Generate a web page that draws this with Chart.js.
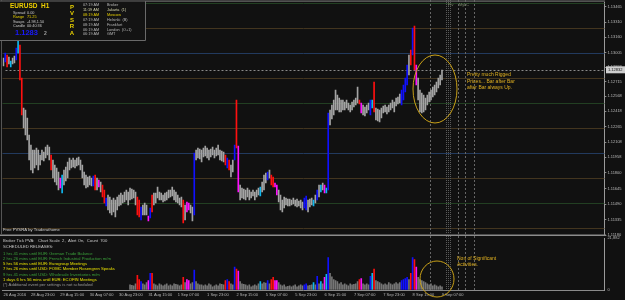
<!DOCTYPE html>
<html><head><meta charset="utf-8">
<script src="https://cdn.jsdelivr.net/npm/chart.js@4.4.0/dist/chart.umd.min.js"></script>
<style>
html,body{margin:0;padding:0;background:#111111;width:625px;height:300px;overflow:hidden}
#wrap{position:relative;width:625px;height:300px;background:#111111}
canvas{position:absolute;left:0}
#c1{top:0}
#c2{top:236px}
</style></head><body>
<div id="wrap"><canvas id="c1" width="625" height="236"></canvas><canvas id="c2" width="625" height="64"></canvas></div>
<script>
// ---------- DATA (H1 bars, 26 Aug 2016 .. 9 Sep 2016 07:00) ----------
const barHigh = [1.1295,1.1300,1.1298,1.1296,1.1292,1.1295,1.1297,1.1305,1.1313,1.1308,
1.1275,1.1245,1.1243,1.1235,1.1218,1.1208,1.1203,1.1203,1.1205,1.1203,
1.1198,1.1203,1.1201,1.1206,1.1208,1.1206,1.1198,1.1193,1.1188,1.1185,
1.1181,1.1175,1.1178,1.1183,1.1186,1.1191,1.1195,1.1193,1.1195,1.1193,
1.1195,1.1196,1.1193,1.1188,1.1181,1.1178,1.1176,1.1177,1.1175,1.1177,
1.1178,1.1175,1.1173,1.1171,1.1168,1.1163,1.1155,1.1158,1.1156,1.1153,
1.1155,1.1153,1.1156,1.1158,1.1160,1.1158,1.1161,1.1163,1.1161,1.1165,
1.1164,1.1163,1.1161,1.1156,1.1153,1.1146,1.1148,1.1150,1.1148,1.1137,
1.1145,1.1158,1.1160,1.1160,1.1166,1.1161,1.1160,1.1158,1.1160,1.1161,
1.1163,1.1163,1.1166,1.1163,1.1161,1.1158,1.1155,1.1156,1.1153,1.1148,
1.1151,1.1150,1.1148,1.1146,1.1200,1.1203,1.1205,1.1204,1.1203,1.1205,
1.1207,1.1205,1.1203,1.1204,1.1206,1.1203,1.1205,1.1208,1.1203,1.1202,
1.1201,1.1198,1.1195,1.1193,1.1188,1.1193,1.1208,1.1253,1.1207,1.1168,
1.1165,1.1164,1.1163,1.1165,1.1163,1.1161,1.1163,1.1161,1.1163,1.1165,
1.1166,1.1171,1.1178,1.1180,1.1181,1.1183,1.1178,1.1176,1.1170,1.1168,
1.1163,1.1158,1.1153,1.1156,1.1155,1.1154,1.1154,1.1153,1.1155,1.1153,
1.1154,1.1152,1.1153,1.1151,1.1155,1.1157,1.1153,1.1154,1.1155,1.1153,
1.1158,1.1163,1.1168,1.1168,1.1170,1.1168,1.1165,1.1240,1.1243,1.1248,
1.1253,1.1263,1.1258,1.1255,1.1253,1.1253,1.1251,1.1253,1.1250,1.1248,
1.1251,1.1253,1.1255,1.1266,1.1253,1.1250,1.1248,1.1246,1.1248,1.1250,
1.1253,1.1253,1.1271,1.1245,1.1244,1.1243,1.1245,1.1247,1.1248,1.1246,
1.1248,1.1250,1.1253,1.1251,1.1255,1.1256,1.1259,1.1263,1.1268,1.1275,
1.1288,1.1298,1.1303,1.1325,1.1327,1.1288,1.1275,1.1263,1.1260,1.1258,
1.1255,1.1258,1.1261,1.1263,1.1266,1.1268,1.1271,1.1275,1.1278,1.1283];
const barLow = [1.1287,1.1291,1.1286,1.1289,1.1286,1.1289,1.1290,1.1293,1.1300,1.1273,
1.1238,1.1225,1.1218,1.1213,1.1193,1.1183,1.1180,1.1185,1.1188,1.1183,
1.1188,1.1193,1.1192,1.1195,1.1198,1.1193,1.1183,1.1175,1.1171,1.1168,
1.1163,1.1165,1.1160,1.1168,1.1172,1.1175,1.1183,1.1185,1.1186,1.1185,
1.1187,1.1188,1.1183,1.1175,1.1168,1.1165,1.1166,1.1168,1.1167,1.1167,
1.1163,1.1163,1.1166,1.1161,1.1156,1.1150,1.1147,1.1143,1.1140,1.1138,
1.1141,1.1136,1.1143,1.1147,1.1148,1.1150,1.1151,1.1153,1.1148,1.1153,
1.1154,1.1155,1.1148,1.1138,1.1136,1.1133,1.1138,1.1138,1.1138,1.1132,
1.1135,1.1141,1.1148,1.1150,1.1155,1.1153,1.1153,1.1151,1.1152,1.1153,
1.1155,1.1156,1.1157,1.1153,1.1151,1.1150,1.1148,1.1146,1.1130,1.1133,
1.1141,1.1143,1.1140,1.1132,1.1138,1.1193,1.1195,1.1194,1.1191,1.1196,
1.1197,1.1195,1.1193,1.1196,1.1198,1.1195,1.1197,1.1198,1.1193,1.1192,
1.1191,1.1188,1.1185,1.1183,1.1176,1.1181,1.1193,1.1205,1.1161,1.1153,
1.1155,1.1154,1.1153,1.1156,1.1153,1.1155,1.1157,1.1153,1.1156,1.1158,
1.1157,1.1161,1.1163,1.1170,1.1173,1.1175,1.1168,1.1166,1.1166,1.1158,
1.1151,1.1143,1.1141,1.1145,1.1148,1.1147,1.1147,1.1148,1.1149,1.1147,
1.1146,1.1147,1.1145,1.1143,1.1145,1.1143,1.1141,1.1146,1.1148,1.1147,
1.1150,1.1153,1.1156,1.1161,1.1163,1.1160,1.1160,1.1163,1.1228,1.1234,
1.1238,1.1243,1.1243,1.1241,1.1241,1.1243,1.1243,1.1245,1.1243,1.1241,
1.1243,1.1246,1.1248,1.1250,1.1249,1.1240,1.1238,1.1237,1.1240,1.1243,
1.1238,1.1245,1.1241,1.1233,1.1232,1.1231,1.1235,1.1240,1.1241,1.1239,
1.1241,1.1243,1.1245,1.1241,1.1247,1.1249,1.1250,1.1248,1.1253,1.1261,
1.1268,1.1278,1.1288,1.1298,1.1283,1.1268,1.1253,1.1241,1.1240,1.1241,
1.1243,1.1248,1.1251,1.1253,1.1256,1.1258,1.1261,1.1265,1.1268,1.1273];
// PVSRA bar class per bar: g = normal, r = red, b = blue, m = magenta, c = cyan
const barKind = "gbrgcggbc" + "rrg" + "gggggggggg" + "g" +
  "gggrggggmcg" + "g" + "ggggggggggg" + "g" + "ggbrgmgrrbg" + "g" +
  "ggggggggggg" + "g" + "ggrrbgggmbr" + "g" + "ggggggggggg" + "g" +
  "gggrgmmggbgg" + "g" + "ggggggggggg" + "g" + "grbrggbrmgg" + "g" +
  "ggggggggcgg" + "g" + "bgrrmmggggg" + "g" + "ggggggggbbg" + "g" +
  "gcgbgcgmcbg" + "g" + "ggggggggggg" + "g" + "ggrmggggbcrg" + "g" +
  "ggggggggggg" + "g" + "bbbbgrbrmgg" + "g" + "ggggggggggg";
// tick volume per bar (bars behind the release text are not visible)
const tickVolume = [null,null,null,null,null,null,null,null,null,null,
null,null,null,null,null,null,null,null,null,null,
null,null,null,null,null,null,null,null,null,null,
null,null,null,null,null,null,null,null,null,null,
null,null,null,null,null,null,null,null,null,null,
null,null,null,null,null,null,null,null,null,null,
null,null,null,null,null,null,null,null,null,
2200,2000,
1760,2640,6160,4400,3520,2640,2200,3080,3960,7040,7040,2640,
2200,1760,2640,2200,1760,2200,2640,1760,2200,1760,2640,2420,
2200,1760,2200,5280,3080,4400,3960,2640,3080,8360,3520,2640,2200,
2200,1760,2200,1760,2640,2200,1320,1760,2200,1760,2640,2420,
2200,3960,4400,3520,2640,2200,9680,8800,7920,3520,2640,2420,
2200,1760,2200,1320,1760,2200,1760,2640,3520,2640,3080,2860,
3960,2640,4400,5280,3960,3960,3080,2200,1760,2200,1320,1540,
1760,1320,1760,2200,1320,1760,2200,1760,2200,2640,1760,1980,
2200,3080,2200,5720,2640,3520,2640,5280,6600,13640,7040,5500,
4400,3960,3520,2640,3080,2200,2640,2200,1760,2640,2200,2420,
2640,3520,4400,4840,2640,2200,2640,2200,5720,7040,8800,3960,3520,
3080,2640,2200,2640,2200,3080,2640,2200,2640,3080,2640,3080,
3960,4400,4840,5280,4400,7040,13640,12760,9680,5280,4400,3960,
3520,3080,2640,2200,2640,1760,2200,1760,1320,1760,1320];
const slotCount = 328; // bar slots on the time axis incl. right chart shift
const timeTickIdx = [0,15,31,47,63,79,95,111,127,143,159,175,191,207,223,239];
const timeTickText = ['26 Aug 2016','28 Aug 23:00','29 Aug 15:00','30 Aug 07:00','30 Aug 23:00','31 Aug 15:00','1 Sep 07:00','1 Sep 23:00','2 Sep 15:00','5 Sep 07:00','5 Sep 23:00','6 Sep 15:00','7 Sep 07:00','7 Sep 23:00','8 Sep 15:00','9 Sep 07:00'];
const priceTicks = [1.13465,1.13310,1.13160,1.13005,1.12858,1.12715,1.12568,1.12418,1.12265,1.12108,1.11958,1.11800,1.11645,1.11490,1.11335,1.11180];
const roundLevels = [1.1350,1.1325,1.1300,1.1275,1.1250,1.1225,1.1200,1.1175,1.1150,1.1125];
const roundLevelKind = ['g','o','b','o','g','o','b','o','g','o'];
const bidPrice = 1.12832;
const volumeMax = 21882;
const sessionMarks = [232.6, 247.7, 251.5, 256.4];
const shiftMark = 242.3;

// ---------- STYLE ----------
const FONT = '"Liberation Sans", Arial, sans-serif';
const candleColor = {g:'#a4a4a4', r:'#ff1010', b:'#1010ff', m:'#ff10ff', c:'#10b8f0'};
const volColor = {g:'#767676', r:'#ff1010', b:'#1010ff', m:'#ff10ff', c:'#10b8f0'};
const levelColor = {g:'#223f22', o:'#43351f', b:'#223a5e'};
const labels = Array.from({length: slotCount}, () => '');
timeTickIdx.forEach((ix, k) => { labels[ix] = timeTickText[k]; });
const kinds = barKind.split('');
const AXIS_W = 625 - (2.5 + slotCount * 1.835);

function vLines(chart, bottom) {
  const {ctx, scales:{x}} = chart;
  ctx.save();
  ctx.strokeStyle = '#666'; ctx.lineWidth = 1; ctx.setLineDash([2,2]);
  sessionMarks.forEach(v => {
    const px = Math.round(x.getPixelForValue(v)) + 0.5;
    ctx.beginPath(); ctx.moveTo(px, 0); ctx.lineTo(px, bottom); ctx.stroke();
  });
  ctx.strokeStyle = '#5a5a5a'; ctx.setLineDash([1,1]);
  const sx = Math.round(x.getPixelForValue(shiftMark));
  [-1.5, 0.5, 2.5].forEach(d => { ctx.beginPath(); ctx.moveTo(sx + d, 0); ctx.lineTo(sx + d, bottom); ctx.stroke(); });
  ctx.restore();
}
function txt(ctx, s, x, y, color, size, bold, align) {
  ctx.font = (bold ? 'bold ' : '') + size + 'px ' + FONT;
  ctx.fillStyle = color; ctx.textAlign = align || 'left'; ctx.textBaseline = 'middle';
  ctx.fillText(s, x, y);
}

const mainDecor = {
  id: 'mainDecor',
  beforeDatasetsDraw(chart) {
    const {ctx, chartArea:a, scales:{y}} = chart;
    ctx.save();
    roundLevels.forEach((lv, k) => {
      const py = Math.round(y.getPixelForValue(lv)) + 0.5;
      ctx.strokeStyle = levelColor[roundLevelKind[k]]; ctx.lineWidth = 1;
      ctx.beginPath(); ctx.moveTo(a.left, py); ctx.lineTo(a.right, py); ctx.stroke();
    });
    vLines(chart, 234);
    const by = Math.round(y.getPixelForValue(bidPrice)) + 0.5;
    ctx.strokeStyle = '#8a8a8a'; ctx.setLineDash([2,2]);
    ctx.beginPath(); ctx.moveTo(a.left + 3, by); ctx.lineTo(a.right, by); ctx.stroke();
    ctx.restore();
  },
  afterDraw(chart) {
    const {ctx, chartArea:a, scales:{y}} = chart;
    ctx.save();
    ctx.fillStyle = '#6e6e6e'; ctx.fillRect(0, 0.5, 605, 1.2);
    ctx.fillStyle = '#555'; ctx.fillRect(1, 0, 1, 234);
    ctx.fillStyle = '#8c8c8c'; ctx.fillRect(0, 234.5, 606, 1.5);
    ctx.fillStyle = '#131313'; ctx.fillRect(0, 1.7, 145, 38.5);
    ctx.strokeStyle = '#6a6a6a'; ctx.lineWidth = 1;
    ctx.beginPath(); ctx.moveTo(0, 40.5); ctx.lineTo(145.5, 40.5); ctx.lineTo(145.5, 1); ctx.stroke();
    txt(ctx, 'EURUSD  H1', 10, 6.5, '#f0d000', 6.5, true);
    const rows = [['Spread','0.00','#c8c8c8'],['Range','71.25','#e8d000'],['Swaps','-4.98,1.50','#c8c8c8'],['Candle','00:40:36','#c8c8c8']];
    rows.forEach((r, k) => { txt(ctx, r[0], 13, 12.5 + k*4.6, r[2], 3.8); txt(ctx, r[1], 27, 12.5 + k*4.6, r[2], 3.8); });
    txt(ctx, '1.1283', 15, 33, '#1a1aff', 7.5, true);
    txt(ctx, '2', 44, 34, '#a0a0a0', 5, true);
    ['P','V','S','R','A'].forEach((l, k) => txt(ctx, l, 72, 7 + k*6.6, '#e8d000', 6, true, 'center'));
    const clock = [['07:19 AM','Broker','#b8b8b8'],['11:19 AM','Jakarta  (1)','#d8d8b0'],['08:19 AM','Moscow','#e8d000'],['07:19 AM','Helsinki  (B)','#b8b8b8'],['08:19 AM','Frankfurt','#b8b8b8'],['06:19 AM','London  (O+1)','#b8b8b8'],['06:19 AM','GMT','#b8b8b8']];
    clock.forEach((c, k) => { txt(ctx, c[0], 83, 5 + k*4.9, c[2], 3.8); txt(ctx, c[1], 107, 5 + k*4.9, c[2], 3.8); });
    txt(ctx, 'Free PVSRA by Traderathome', 3, 229.5, '#d0d0d0', 4.2);
    txt(ctx, 'Piv', 448, 4.5, '#7c8a6c', 3.8);
    txt(ctx, 'MyLC', 459, 4.5, '#7c8a6c', 3.8);
    ctx.strokeStyle = '#c8a018'; ctx.lineWidth = 1; ctx.setLineDash([]);
    ctx.beginPath(); ctx.ellipse(435, 89, 22, 34, 0, 0, Math.PI*2); ctx.stroke();
    ['Pretty much Rigged','Prices... Bar after Bar','after Bar always Up.'].forEach((s, k) => txt(ctx, s, 467, 74.5 + k*6.8, '#e0b020', 5));
    const by = y.getPixelForValue(bidPrice);
    ctx.fillStyle = '#cfcfcf'; ctx.fillRect(606, by - 3.5, 19, 7);
    txt(ctx, bidPrice.toFixed(5), 608, by, '#111', 4);
    ctx.restore();
  }
};

const volDecor = {
  id: 'volDecor',
  beforeDatasetsDraw(chart) { vLines(chart, chart.chartArea.bottom); },
  afterDraw(chart) {
    const {ctx} = chart;
    ctx.save();
    const G = '#3aa03a', Y = '#e8e000', W = '#c8c8c8';
    const lines = [['Broker Tick PVA:   Chart Scale  2,  Alert On,  Count  700', W],
      ['SCHEDULED RELEASES:', W],
      ['1 hrs 41 mins until EUR: German Trade Balance', G],
      ['2 hrs 26 mins until EUR: French Industrial Production m/m', G],
      ['5 hrs 56 mins until EUR: Eurogroup Meetings', Y],
      ['7 hrs 26 mins until USD: FOMC Member Rosengren Speaks', Y],
      ['9 hrs 41 mins until USD: Wholesale Inventories m/m', G],
      ['1 days 6 hrs 56 mins until EUR: ECOFIN Meetings', Y],
      ['(*) Additional event per settings is not scheduled', '#9a9a9a']];
    const ys = [4.5, 11, 17.5, 23, 28, 33, 38.5, 43.5, 48.5];
    lines.forEach((l, k) => txt(ctx, l[0], 3, ys[k], l[1], 4.2));
    ctx.strokeStyle = '#c8a018'; ctx.lineWidth = 1;
    ctx.beginPath(); ctx.ellipse(437, 43, 17, 18, 0, 0, Math.PI*2); ctx.stroke();
    txt(ctx, 'Non of Significant', 457, 22.5, '#e0b020', 5);
    txt(ctx, 'Activities.', 457, 29, '#e0b020', 5);
    ctx.restore();
  }
};

const common = {
  responsive: false, animation: false, events: [],
  plugins: {legend: {display: false}, tooltip: {enabled: false}}
};

new Chart(document.getElementById('c1'), {
  type: 'bar',
  data: {labels, datasets: [{
    data: barHigh.map((h, i) => [barLow[i], h]),
    backgroundColor: kinds.map(k => candleColor[k]),
    barThickness: 1, borderWidth: 0, grouped: false
  }]},
  options: Object.assign({}, common, {
    layout: {padding: {top: 2, bottom: 2, left: 2.5, right: 0}},
    scales: {
      x: {display: false, offset: true},
      y: {position: 'right', min: 1.1119, max: 1.1351,
        afterBuildTicks: s => { s.ticks = priceTicks.map(v => ({value: v})); },
        afterFit: s => { s.width = AXIS_W; s.paddingTop = 0; s.paddingBottom = 0; },
        grid: {drawOnChartArea: false, drawTicks: true, tickLength: 2, color: '#8a8a8a'},
        border: {display: true, color: '#9a9a9a'},
        ticks: {font: {size: 4, family: FONT}, color: '#b8b8b8', padding: 1, callback: v => Number(v).toFixed(5)}
      }
    }
  }),
  plugins: [mainDecor]
});

new Chart(document.getElementById('c2'), {
  type: 'bar',
  data: {labels, datasets: [{
    data: tickVolume,
    backgroundColor: kinds.map(k => volColor[k]),
    barThickness: 1, borderWidth: 0
  }]},
  options: Object.assign({}, common, {
    layout: {padding: {top: 2, bottom: 0, left: 2.5, right: 0}},
    scales: {
      x: {offset: true,
        afterFit: s => { s.height = 10; },
        grid: {display: false, drawTicks: false, tickLength: 0},
        border: {display: true, color: '#8a8a8a'},
        ticks: {autoSkip: false, maxRotation: 0, align: 'start', padding: 2, font: {size: 4, family: FONT}, color: '#b8b8b8'}
      },
      y: {position: 'right', min: 0, max: volumeMax,
        afterBuildTicks: s => { s.ticks = [{value: 0}, {value: volumeMax}]; },
        afterFit: s => { s.width = AXIS_W; s.paddingTop = 0; s.paddingBottom = 0; },
        grid: {drawOnChartArea: false, drawTicks: false},
        border: {display: true, color: '#9a9a9a'},
        ticks: {font: {size: 4, family: FONT}, color: '#b8b8b8', padding: 3}
      }
    }
  }),
  plugins: [volDecor]
});
</script></body></html>
